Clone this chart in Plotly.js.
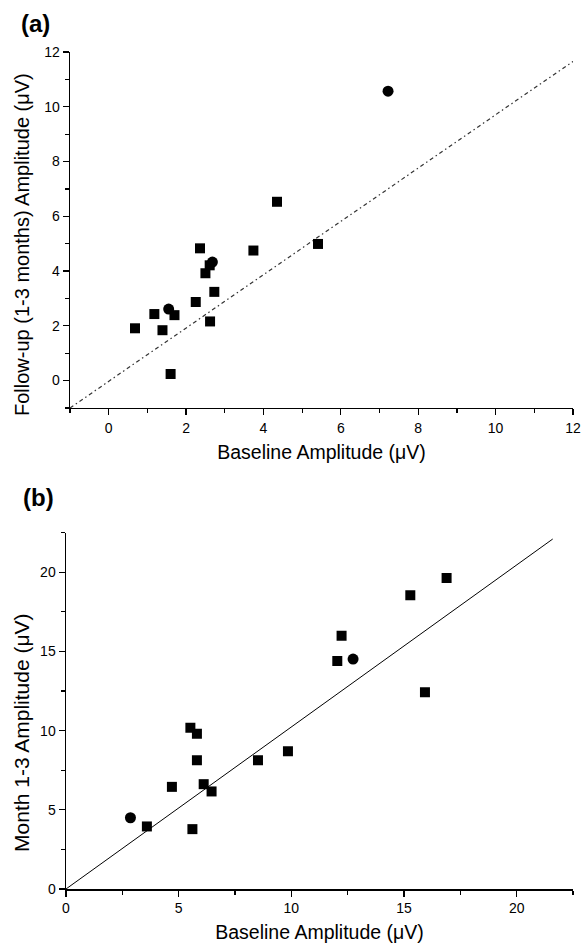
<!DOCTYPE html>
<html>
<head>
<meta charset="utf-8">
<script src="https://cdn.plot.ly/plotly-3.0.1.min.js"></script>
<style>html,body{margin:0;padding:0;background:#fff;}#chart{width:584px;height:946px;}</style>
</head>
<body>
<div id="chart"></div>
<script>
// Panel (a): Baseline vs Follow-up (1-3 months)
const aSquareX = [4.35, 5.41, 3.74, 2.36, 2.61, 2.50, 2.73, 2.25, 1.18, 1.70, 2.62, 0.68, 1.39, 1.60];
const aSquareY = [6.53, 4.99, 4.75, 4.83, 4.21, 3.92, 3.24, 2.87, 2.43, 2.39, 2.16, 1.91, 1.84, 0.24];
const aCircleX = [7.22, 2.68, 1.55];
const aCircleY = [10.57, 4.33, 2.61];
const aLineX = [-1, 12.2];
const aLineY = [-1, 11.85];

// Panel (b): Baseline vs Month 1-3
const bSquareX = [16.89, 15.28, 12.23, 12.04, 15.93, 5.52, 5.81, 5.81, 8.52, 9.85, 4.70, 6.11, 6.46, 3.59, 5.61];
const bSquareY = [19.64, 18.55, 15.99, 14.39, 12.42, 10.19, 9.81, 8.13, 8.13, 8.70, 6.45, 6.62, 6.16, 3.95, 3.78];
const bCircleX = [12.74, 2.86];
const bCircleY = [14.52, 4.50];
const bLineX = [0, 21.6];
const bLineY = [0, 22.1];

const aXTitle = 'Baseline Amplitude (μV)';
const aYTitle = 'Follow-up (1-3 months) Amplitude (μV)';
const bXTitle = 'Baseline Amplitude (μV)';
const bYTitle = 'Month 1-3 Amplitude (μV)';

const FONT = 'Liberation Sans, Arial, sans-serif';

const traces = [
  {x: aLineX, y: aLineY, mode: 'lines', xaxis: 'x', yaxis: 'y', cliponaxis: false,
   line: {color: '#333', width: 1.2, dash: '4px,3px,1.5px,3px'}, showlegend: false},
  {x: aSquareX, y: aSquareY, mode: 'markers', xaxis: 'x', yaxis: 'y',
   marker: {symbol: 'square', size: 10, color: '#000'}, showlegend: false},
  {x: aCircleX, y: aCircleY, mode: 'markers', xaxis: 'x', yaxis: 'y',
   marker: {symbol: 'circle', size: 11, color: '#000'}, showlegend: false},
  {x: bLineX, y: bLineY, mode: 'lines', xaxis: 'x2', yaxis: 'y2',
   line: {color: '#000', width: 1}, showlegend: false},
  {x: bSquareX, y: bSquareY, mode: 'markers', xaxis: 'x2', yaxis: 'y2',
   marker: {symbol: 'square', size: 10, color: '#000'}, showlegend: false},
  {x: bCircleX, y: bCircleY, mode: 'markers', xaxis: 'x2', yaxis: 'y2',
   marker: {symbol: 'circle', size: 11, color: '#000'}, showlegend: false}
];

function axisBase() {
  return {
    showline: true, linecolor: '#000', linewidth: 1.5, mirror: false,
    showgrid: false, zeroline: false,
    ticks: 'outside', ticklen: 6, tickwidth: 1.2, tickcolor: '#000',
    tickfont: {family: FONT, size: 14, color: '#000'},
    fixedrange: true
  };
}

const layout = {
  width: 584, height: 946,
  margin: {l: 66, r: 11, t: 52, b: 57},
  paper_bgcolor: '#fff', plot_bgcolor: '#fff',
  font: {family: FONT, color: '#000'},
  xaxis: Object.assign(axisBase(), {
    domain: [0.0079, 1], anchor: 'y', range: [-1, 12], tick0: 0, dtick: 2,
    minor: {dtick: 1, ticks: 'outside', ticklen: 4, tickcolor: '#000', tickwidth: 1.2},
    ticklabelstandoff: 1,
    title: {text: aXTitle, font: {family: FONT, size: 19.5, color: '#000'}, standoff: 10}
  }),
  yaxis: Object.assign(axisBase(), {
    domain: [0.5747, 1], anchor: 'x', range: [-1, 12], tick0: 0, dtick: 2,
    minor: {dtick: 1, ticks: 'outside', ticklen: 4, tickcolor: '#000', tickwidth: 1.2}
  }),
  xaxis2: Object.assign(axisBase(), {
    domain: [0, 1], anchor: 'y2', range: [0, 22.5], tick0: 0, dtick: 5,
    minor: {dtick: 2.5, ticks: 'outside', ticklen: 4, tickcolor: '#000', tickwidth: 1.2},
    ticklabelstandoff: 0,
    title: {text: bXTitle, font: {family: FONT, size: 19.5, color: '#000'}, standoff: 10}
  }),
  yaxis2: Object.assign(axisBase(), {
    domain: [0, 0.4257], anchor: 'x2', range: [0, 22.5], tick0: 0, dtick: 5,
    minor: {dtick: 2.5, ticks: 'outside', ticklen: 4, tickcolor: '#000', tickwidth: 1.2}
  }),
  annotations: [
    {text: '<b>(a)</b>', xref: 'paper', yref: 'paper', x: -0.061, y: 1.0335,
     xanchor: 'center', yanchor: 'middle', showarrow: false,
     font: {family: FONT, size: 24, color: '#000'}},
    {text: '<b>(b)</b>', xref: 'paper', yref: 'paper', x: -0.055, y: 0.4683,
     xanchor: 'center', yanchor: 'middle', showarrow: false,
     font: {family: FONT, size: 24, color: '#000'}},
    {text: aYTitle, xref: 'paper', yref: 'paper', x: -0.0868, y: 0.7706,
     xanchor: 'center', yanchor: 'middle', textangle: -90, showarrow: false,
     font: {family: FONT, size: 20, color: '#000'}},
    {text: bYTitle, xref: 'paper', yref: 'paper', x: -0.0868, y: 0.1876,
     xanchor: 'center', yanchor: 'middle', textangle: -90, showarrow: false,
     font: {family: FONT, size: 21, color: '#000'}}
  ]
};

Plotly.newPlot('chart', traces, layout, {displayModeBar: false, staticPlot: true});
</script>
</body>
</html>
